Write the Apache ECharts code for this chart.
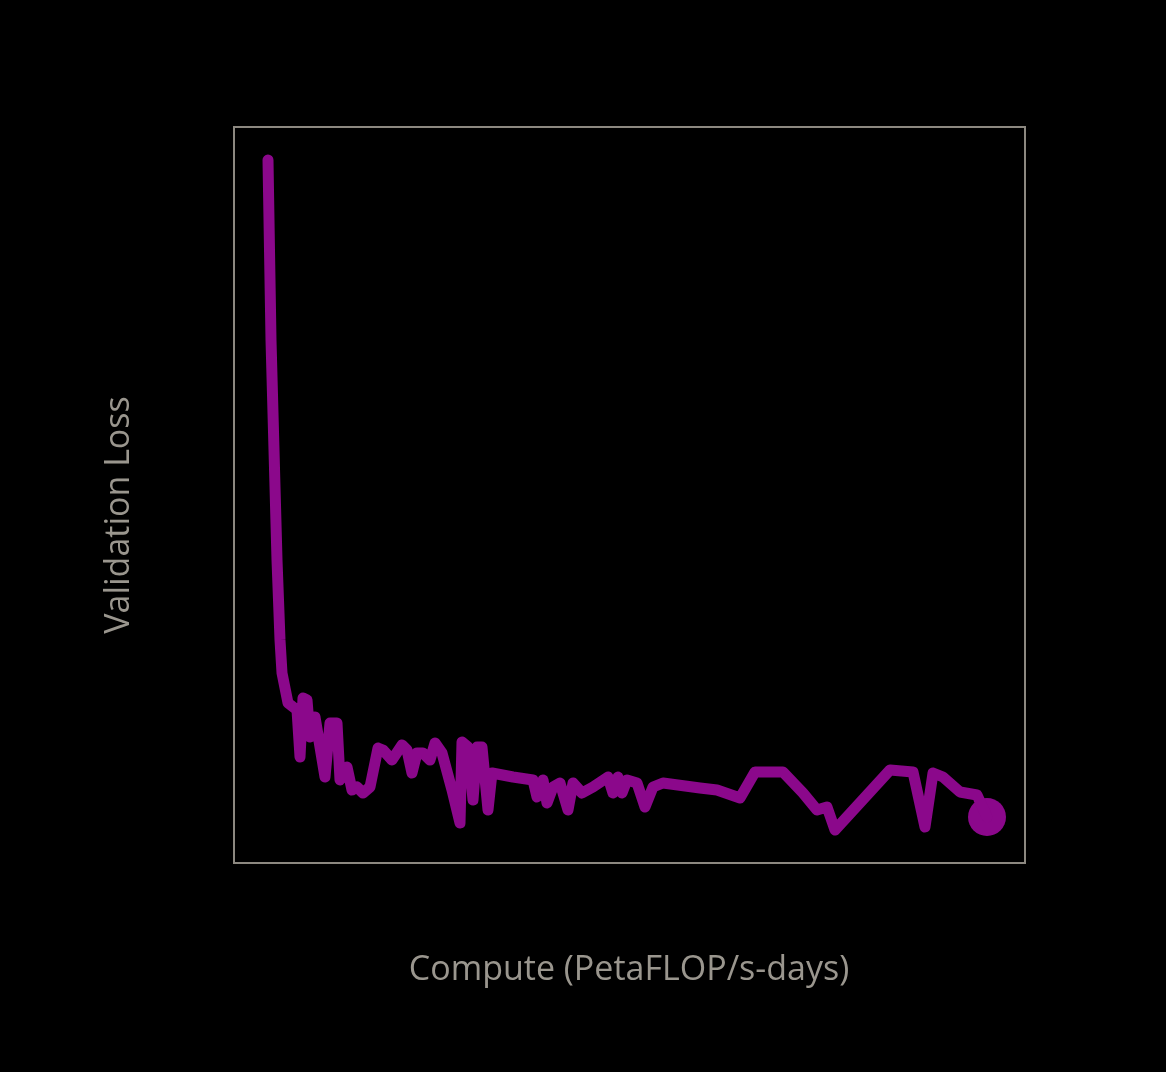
<!DOCTYPE html><html><head><meta charset="utf-8">
<script src="https://cdn.jsdelivr.net/npm/echarts@6/dist/echarts.min.js"></script>
<style>html,body{margin:0;background:#000}#c{width:1166px;height:1072px}</style></head><body><div id="c"></div>
<script>
// compute (arbitrary units, 0..791) and validation loss (arbitrary units, 0..736)
const compute=[34,37,40,43,46,48,54,63,66,69,73,76,81,91,96,103,106,113,118,123,129,136,144,149,158,168,173,178,183,189,196,201,208,218,226,228,234,239,243,248,254,258,279,299,303,309,313,319,326,334,339,348,359,374,379,384,388,393,403,411,419,429,466,483,506,521,549,569,583,593,601,656,679,691,699,709,726,743,753];
const loss=[703,523,413,303,223,190,160,153,106,165,163,126,146,86,140,140,83,96,73,76,70,76,115,113,103,118,113,90,110,110,103,120,110,73,40,121,116,63,116,116,53,90,86,83,66,83,60,76,80,53,80,70,76,86,70,86,70,83,80,56,76,80,75,73,65,91,91,70,53,56,33,93,91,36,90,86,71,68,46];
const xTitle='Compute (PetaFLOP/s-days)', yTitle='Validation Loss';
const data=compute.map((x,i)=>[x,loss[i]]);
const last=data[data.length-1];
const font={fill:'#9a968e',fontSize:34,fontFamily:'Open Sans',align:'center',verticalAlign:'middle'};
echarts.init(document.getElementById('c')).setOption({
 backgroundColor:'#000',animation:false,
 grid:{left:234,right:141,top:127,bottom:209,show:true,borderColor:'#8c8880',borderWidth:2},
 xAxis:{type:'value',min:0,max:791,axisLine:{show:false},axisTick:{show:false},axisLabel:{show:false},splitLine:{show:false}},
 yAxis:{type:'value',min:0,max:736,axisLine:{show:false},axisTick:{show:false},axisLabel:{show:false},splitLine:{show:false}},
 graphic:[{type:'text',x:629,y:970,style:Object.assign({text:xTitle},font)},
  {type:'text',x:119,y:515,rotation:Math.PI/2,style:Object.assign({text:yTitle},font)}],
 series:[{type:'line',data:data,showSymbol:false,lineStyle:{color:'#8b088b',width:11,join:'round',cap:'round'}},
  {type:'scatter',data:[last],symbolSize:38,itemStyle:{color:'#8b088b',opacity:1}}]
});
</script></body></html>
